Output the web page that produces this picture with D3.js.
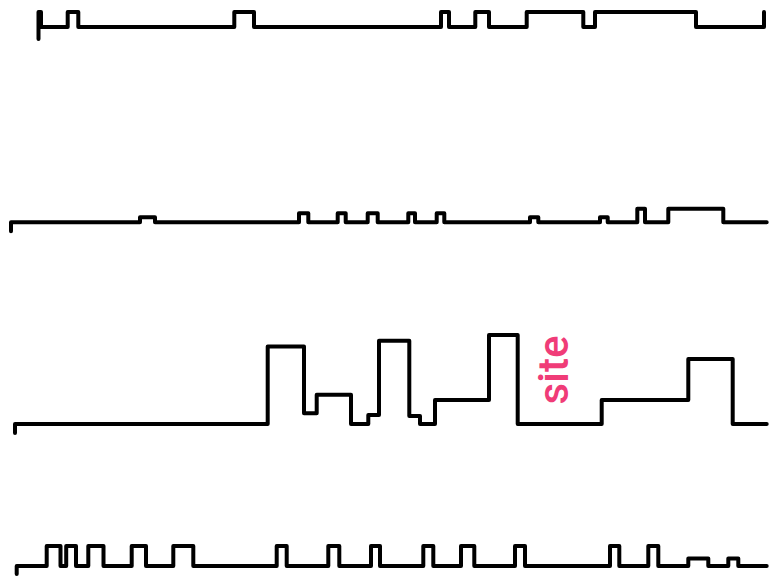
<!DOCTYPE html>
<html>
<head>
<meta charset="utf-8">
<script src="https://cdn.jsdelivr.net/npm/d3@7"></script>
<style>
  html, body { margin: 0; padding: 0; background: #fff; }
  svg { display: block; }
</style>
</head>
<body>
<svg id="chart" width="779" height="576"></svg>
<script>
// ---- data: step series (site position, level) ----
const series1 = [[38.5,-0.8],[38.5,1],[41,0],[67.7,1],[78.3,0],[234.3,1],[254,0],[441,1],[449,0],[475.3,1],[489,0],[526.7,1],[583.3,0],[595,1],[696,0],[764,1]];
const series2 = [[11,-2],[11,0],[140,1.1],[155,0],[299,2],[308.3,0],[337.7,2],[345.7,0],[367.7,2],[377.7,0],[408.3,2],[415,0],[436.7,2],[444.3,0],[530,1.1],[538.3,0],[600,1.1],[607.7,0],[637.3,3],[645,0],[668.3,3],[723.3,0],[766.7,0]];
const series3 = [[15,-1],[15,0],[267.7,8.7],[304,1.2],[316.7,3.3],[351,0],[368.3,1.0],[379,9.35],[409.3,0.9],[420,0],[435,2.7],[489,10],[517.7,0],[601.7,2.7],[688.3,7.3],[732.7,0],[766.7,0]];
const series4 = [[16.7,-0.4],[16.7,0],[46.7,1],[60.5,0],[66.2,1],[76,0],[88.3,1],[103.5,0],[131.7,1],[146,0],[173.3,1],[193.3,0],[276.7,1],[286.7,0],[328.3,1],[339.3,0],[371,1],[380,0],[423.3,1],[433.3,0],[461,1],[474.3,0],[515,1],[525,0],[610,1],[619.3,0],[648.3,1],[658.3,0],[688.3,0.37],[708.3,0],[728.3,0.37],[738.3,0],[766.7,0]];
const seriesMax = [1, 3, 10, 1];
const labelText = "site";
const labelSite = 568;

// ---- layout ----
const W = 779, H = 576;
const panels = [
  { data: series1, base: 27,    top: 12 },
  { data: series2, base: 222.3, top: 208.8 },
  { data: series3, base: 424,   top: 335 },
  { data: series4, base: 566,   top: 546 }
];

const svg = d3.select("#chart");
const x = d3.scaleLinear().domain([0, 779]).range([0, W]);

panels.forEach((p, i) => {
  const y = d3.scaleLinear().domain([0, seriesMax[i]]).range([p.base, p.top]);
  const line = d3.line()
    .x(d => x(d[0]))
    .y(d => y(d[1]))
    .curve(d3.curveStepAfter);
  svg.append("path")
    .datum(p.data)
    .attr("d", line)
    .attr("fill", "none")
    .attr("stroke", "#000")
    .attr("stroke-width", 4)
    .attr("stroke-linejoin", "round")
    .attr("stroke-linecap", "round");
});

// rotated label
svg.append("text")
  .attr("transform", `translate(${x(labelSite)},370) rotate(-90)`)
  .attr("text-anchor", "middle")
  .attr("font-family", "Roboto, 'Open Sans', sans-serif")
  .attr("font-weight", 500)
  .attr("font-size", 42)
  .attr("fill", "#f03c78")
  .text(labelText);
</script>
</body>
</html>
